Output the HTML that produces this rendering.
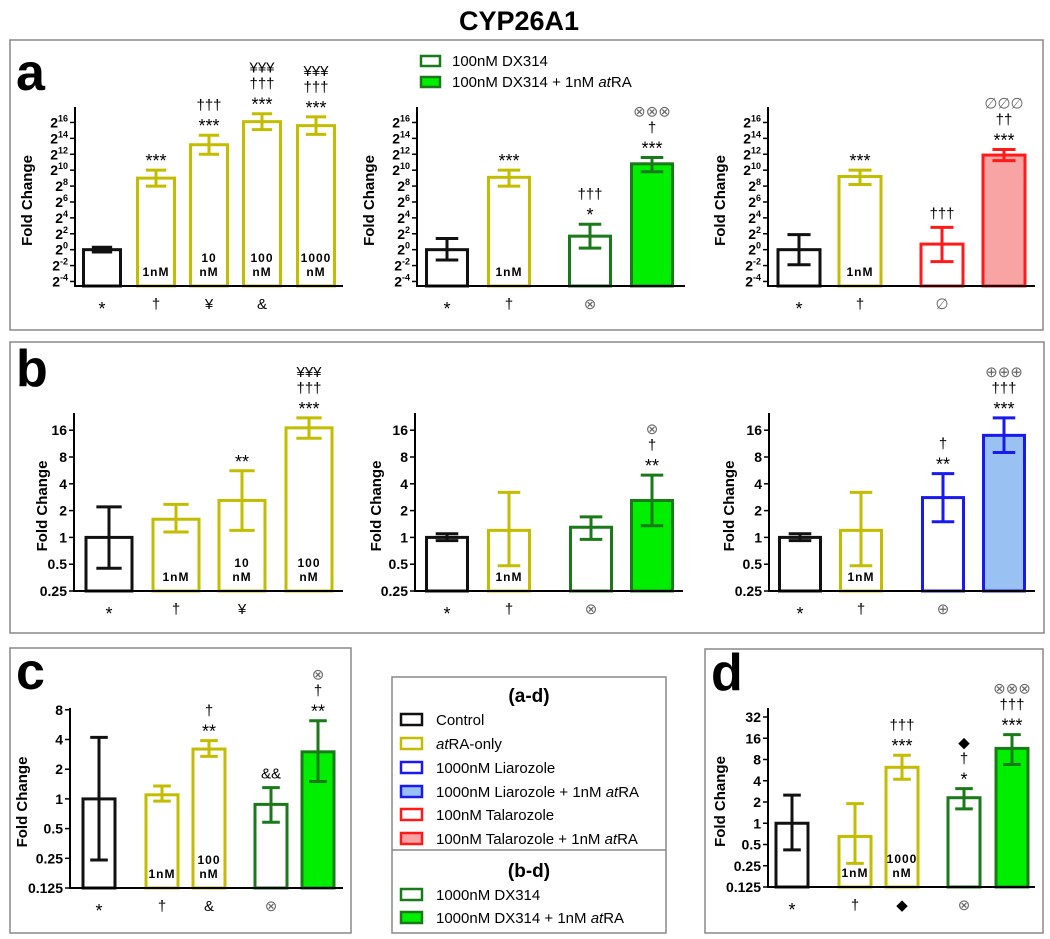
<!DOCTYPE html>
<html><head><meta charset="utf-8">
<style>
html,body{margin:0;padding:0;background:#fff;}
svg{display:block;font-family:"Liberation Sans",Arial,sans-serif;}
</style></head>
<body>
<svg id="fig" width="1050" height="939" viewBox="0 0 1050 939" xmlns="http://www.w3.org/2000/svg">
  <text x="519" y="30" font-size="27" font-weight="bold" text-anchor="middle">CYP26A1</text>
  <rect x="10" y="40" width="1033" height="290" fill="none" stroke="#888" stroke-width="1.5"/>
  <rect x="10" y="342" width="1034" height="291" fill="none" stroke="#888" stroke-width="1.5"/>
  <rect x="10" y="648" width="341" height="285" fill="none" stroke="#888" stroke-width="1.5"/>
  <rect x="705" y="649" width="338" height="284" fill="none" stroke="#888" stroke-width="1.5"/>
  <text x="16" y="90" font-size="52" font-weight="bold">a</text>
  <text x="16" y="386" font-size="52" font-weight="bold">b</text>
  <text x="16" y="689" font-size="52" font-weight="bold">c</text>
  <text x="711" y="690" font-size="52" font-weight="bold">d</text>

  <g>
    <rect x="421" y="56" width="19" height="10" fill="#fff" stroke="#1a7a1a" stroke-width="2.5"/>
    <text x="452" y="66" font-size="15">100nM DX314</text>
    <rect x="421" y="77" width="19" height="10" fill="#00ee00" stroke="#1a7a1a" stroke-width="2.5"/>
    <text x="452" y="87" font-size="15">100nM DX314 + 1nM <tspan font-style="italic">at</tspan>RA</text>
  </g>

  <g>
    <rect x="392" y="677" width="274" height="256" fill="#fff" stroke="#888" stroke-width="1.5"/>
    <line x1="392" y1="850" x2="666" y2="850" stroke="#888" stroke-width="1.5"/>
    <text x="529" y="702" font-size="19" font-weight="bold" text-anchor="middle">(a-d)</text>
    <text x="529" y="877" font-size="19" font-weight="bold" text-anchor="middle">(b-d)</text>
    <g id="legendEntries"></g>
  </g>
  <g id="charts"></g>
</svg>
<script>
// ---------- DATA ----------
// Panel a (values as log2 fold change)
const a1Categories = ["Control","1nM","10nM","100nM","1000nM"];
const a1Values = [0, 9.0, 13.2, 16.1, 15.6];
const a1ErrHigh = [0.3, 10.0, 14.4, 17.1, 16.7];
const a1ErrLow = [-0.3, 8.0, 12.0, 15.1, 14.5];
const a2Categories = ["Control","1nM atRA","100nM DX314","100nM DX314 + atRA"];
const a2Values = [0, 9.1, 1.7, 10.8];
const a2ErrHigh = [1.4, 10.0, 3.2, 11.6];
const a2ErrLow = [-1.3, 8.0, 0.2, 9.8];
const a3Categories = ["Control","1nM atRA","100nM Talarozole","Talarozole + atRA"];
const a3Values = [0, 9.2, 0.7, 11.9];
const a3ErrHigh = [1.9, 10.0, 2.8, 12.6];
const a3ErrLow = [-1.9, 8.2, -1.5, 11.2];
const aTickExponents = [-4,-2,0,2,4,6,8,10,12,14,16];
// Panel b (fold change)
const b1Values = [1, 1.6, 2.6, 17];
const b1ErrHigh = [2.2, 2.35, 5.6, 22];
const b1ErrLow = [0.45, 1.15, 1.2, 13];
const b2Values = [1, 1.2, 1.3, 2.6];
const b2ErrHigh = [1.1, 3.2, 1.7, 5.0];
const b2ErrLow = [0.92, 0.48, 0.95, 1.35];
const b3Values = [1, 1.2, 2.8, 14];
const b3ErrHigh = [1.1, 3.2, 5.2, 22];
const b3ErrLow = [0.92, 0.48, 1.5, 9];
const bTickLabels = ["0.25","0.5","1","2","4","8","16"];
// Panel c
const cValues = [1, 1.1, 3.2, 0.88, 3.0];
const cErrHigh = [4.2, 1.35, 3.9, 1.3, 6.2];
const cErrLow = [0.24, 0.95, 2.7, 0.58, 1.5];
const cTickLabels = ["0.125","0.25","0.5","1","2","4","8"];
// Panel d
const dValues = [1, 0.65, 6.2, 2.3, 11.5];
const dErrHigh = [2.5, 1.9, 9.2, 3.1, 18];
const dErrLow = [0.42, 0.27, 4.2, 1.6, 6.8];
const dTickLabels = ["0.125","0.25","0.5","1","2","4","8","16","32"];

// ---------- STYLE ----------
const OL="#c2bd00", BK="#111", DG="#1a7a1a", GF="#00ee00", BL="#1a1aee", LB="#99c2f2", RD="#ff1a1a", PK="#f8a4a4";
const S = {
  ctrl:{s:BK,f:"#fff"}, ol:{s:OL,f:"#fff"}, dg:{s:DG,f:"#fff"}, dgf:{s:DG,f:GF},
  bl:{s:BL,f:"#fff"}, blf:{s:BL,f:LB}, rd:{s:RD,f:"#fff"}, rdf:{s:RD,f:PK}
};
const NS="http://www.w3.org/2000/svg";
const root=document.getElementById('charts');
function mk(tag,attrs,parent){const e=document.createElementNS(NS,tag);for(const k in attrs)e.setAttribute(k,attrs[k]);(parent||root).appendChild(e);return e;}

function drawChart(c){
  const g=mk('g',{});
  
  
  const toL = c.isLog2 ? (v=>v) : (v=>Math.log2(v));
  const y = v => c.bottom - (toL(v) - c.minLog) * c.px;
  const ya=mk('line',{x1:c.axisX,y1:c.top,x2:c.axisX,y2:c.bottom,stroke:"#000","stroke-width":2},g);
  
  
  c.ticks.forEach((t,i)=>{
    const ty=y(t.v);
    const tk=mk('line',{x1:c.axisX-5,y1:ty,x2:c.axisX,y2:ty,stroke:"#000","stroke-width":1.5},g);
    
    
    let tx;
    if(c.isLog2){
      tx=mk('text',{x:c.axisX-7,y:ty+5,"font-size":14,"font-weight":"bold","text-anchor":"end"},g);
      tx.textContent="2";
      const sp=mk('tspan',{dy:-6,"font-size":9},tx);
      sp.textContent=t.label;
    } else {
      tx=mk('text',{x:c.axisX-7,y:ty+5,"font-size":14,"font-weight":"bold","text-anchor":"end"},g);
      tx.textContent=t.label;
    }
    
    
  });
  const lx=c.axisX-c.labelOff, ly=(c.top+c.bottom)/2+4;
  const yl=mk('text',{x:lx,y:ly,"font-size":15,"font-weight":"bold","text-anchor":"middle",transform:`rotate(-90 ${lx} ${ly})`},g);
  yl.textContent="Fold Change";
  
  
  c.values.forEach((v,i)=>{
    const cx=c.centers[i], w=c.barW, st=S[c.styles[i]];
    const top=y(v);
    const r=mk('rect',{x:cx-w/2,y:top,width:w,height:c.bottom-top,fill:st.f,stroke:st.s,"stroke-width":3},g);
    
    
    const yh=y(c.hi[i]), yl2=y(c.lo[i]), cw=w*0.55;
    const eb=mk('path',{d:`M${cx},${yh}V${yl2}M${cx-cw/2},${yh}H${cx+cw/2}M${cx-cw/2},${yl2}H${cx+cw/2}`,stroke:st.s,"stroke-width":3,fill:"none"},g);
    
    
    const ann=c.ann[i]||[];
    ann.forEach((s,k)=>{
      const gray = /[⊗⊕∅]/.test(s);
      const isAst = s.startsWith('*');
      const center = yh - 14 - k*16;
      const t=mk('text',{x:cx,y:center+(isAst?11:5),"font-size":isAst?18:15,"text-anchor":"middle",fill:gray?"#666":"#000"},g);
      t.textContent=s;
      
      
    });
    const inl=c.inner[i];
    if(inl){
      inl.forEach((s,k)=>{
        const t=mk('text',{x:cx,y:c.bottom-10-(inl.length-1-k)*14,"font-size":12,"font-weight":"bold","text-anchor":"middle","letter-spacing":"1"},g);
        t.textContent=s;
        
        
      });
    }
    const sym=c.sym[i];
    if(sym){
      const gray=/[⊗⊕∅]/.test(sym);
      const t=mk('text',{x:cx,y:c.bottom+(sym==='*'?29:23),"font-size":sym==='*'?18:15,"text-anchor":"middle",fill:gray?"#666":"#000"},g);
      t.textContent=sym;
      
      
    }
  });
  const xa=mk('line',{x1:c.axisX-1,y1:c.bottom,x2:c.axisEnd,y2:c.bottom,stroke:"#000","stroke-width":2},g);
  
  
}

const aTicks = aTickExponents.map(e=>({v:e,label:String(e)}));
const mkTicks = (labels)=>labels.map(l=>({v:parseFloat(l),label:l}));
const aGeom={isLog2:true,bottom:286,top:107,px:7.95,minLog:-4.57,labelOff:43};
const bGeom={isLog2:false,bottom:591,top:413,px:26.8,minLog:-2};

drawChart(Object.assign({},aGeom,{name:"chart-a1",axisX:75,axisEnd:343,centers:[102,156,209,262,316],barW:37,
  values:a1Values,hi:a1ErrHigh,lo:a1ErrLow,styles:["ctrl","ol","ol","ol","ol"],ticks:aTicks,
  ann:[[],["***"],["***","†††"],["***","†††","¥¥¥"],["***","†††","¥¥¥"]],
  inner:[null,["1nM"],["10","nM"],["100","nM"],["1000","nM"]],sym:["*","†","¥","&",""]}));
drawChart(Object.assign({},aGeom,{name:"chart-a2",axisX:417,axisEnd:685,centers:[447,509,590,652],barW:41,
  values:a2Values,hi:a2ErrHigh,lo:a2ErrLow,styles:["ctrl","ol","dg","dgf"],ticks:aTicks,
  ann:[[],["***"],["*","†††"],["***","†","⊗⊗⊗"]],
  inner:[null,["1nM"],null,null],sym:["*","†","⊗",""]}));
drawChart(Object.assign({},aGeom,{name:"chart-a3",axisX:768,axisEnd:1035,centers:[799,860,942,1004],barW:42,
  values:a3Values,hi:a3ErrHigh,lo:a3ErrLow,styles:["ctrl","ol","rd","rdf"],ticks:aTicks,
  ann:[[],["***"],["†††"],["***","††","∅∅∅"]],
  inner:[null,["1nM"],null,null],sym:["*","†","∅",""]}));

drawChart(Object.assign({},bGeom,{name:"chart-b1",labelOff:27,axisX:74,axisEnd:343,centers:[109,176,242,309],barW:46,
  values:b1Values,hi:b1ErrHigh,lo:b1ErrLow,styles:["ctrl","ol","ol","ol"],ticks:mkTicks(bTickLabels),
  ann:[[],[],["**"],["***","†††","¥¥¥"]],
  inner:[null,["1nM"],["10","nM"],["100","nM"]],sym:["*","†","¥",""]}));
drawChart(Object.assign({},bGeom,{name:"chart-b2",labelOff:34,axisX:415,axisEnd:683,centers:[447,509,591,652],barW:41,
  values:b2Values,hi:b2ErrHigh,lo:b2ErrLow,styles:["ctrl","ol","dg","dgf"],ticks:mkTicks(bTickLabels),
  ann:[[],[],[],["**","†","⊗"]],
  inner:[null,["1nM"],null,null],sym:["*","†","⊗",""]}));
drawChart(Object.assign({},bGeom,{name:"chart-b3",labelOff:35,axisX:769,axisEnd:1035,centers:[800,861,943,1004],barW:41,
  values:b3Values,hi:b3ErrHigh,lo:b3ErrLow,styles:["ctrl","ol","bl","blf"],ticks:mkTicks(bTickLabels),
  ann:[[],[],["**","†"],["***","†††","⊕⊕⊕"]],
  inner:[null,["1nM"],null,null],sym:["*","†","⊕",""]}));

drawChart({name:"chart-c",isLog2:false,bottom:888,top:708,px:29.7,minLog:-3,labelOff:43,axisX:70,axisEnd:343,
  centers:[99,162,209,271,318],barW:32,values:cValues,hi:cErrHigh,lo:cErrLow,styles:["ctrl","ol","ol","dg","dgf"],
  ticks:mkTicks(cTickLabels),ann:[[],[],["**","†"],["&&"],["**","†","⊗"]],
  inner:[null,["1nM"],["100","nM"],null,null],sym:["*","†","&","⊗",""]});
drawChart({name:"chart-d",isLog2:false,bottom:887,top:708,px:21.25,minLog:-3,labelOff:43,axisX:768,axisEnd:1035,
  centers:[792,855,902,964,1012],barW:32,values:dValues,hi:dErrHigh,lo:dErrLow,styles:["ctrl","ol","ol","dg","dgf"],
  ticks:mkTicks(dTickLabels),ann:[[],[],["***","†††"],["*","†","◆"],["***","†††","⊗⊗⊗"]],
  inner:[null,["1nM"],["1000","nM"],null,null],sym:["*","†","◆","⊗",""]});

const legendLabels=[["Control","ctrl",720],["atRA-only","ol",744],["1000nM Liarozole","bl",768],["1000nM Liarozole + 1nM atRA","blf",792],
  ["100nM Talarozole","rd",815],["100nM Talarozole + 1nM atRA","rdf",839],["1000nM DX314","dg",895],["1000nM DX314 + 1nM atRA","dgf",918]];
const le=document.getElementById('legendEntries');
legendLabels.forEach(([lab,st,yy])=>{
  const r=mk('rect',{x:401,y:yy-6,width:21,height:11,fill:S[st].f,stroke:S[st].s,"stroke-width":2.5},le);
  
  
  const t=mk('text',{x:436,y:yy+5,"font-size":15},le);
  
  
  lab.split(/(at)(?=RA)/).forEach(part=>{
    const sp=mk('tspan',part==='at'?{"font-style":"italic"}:{},t);
    sp.textContent=part;
  });
});
</script>
</body></html>
